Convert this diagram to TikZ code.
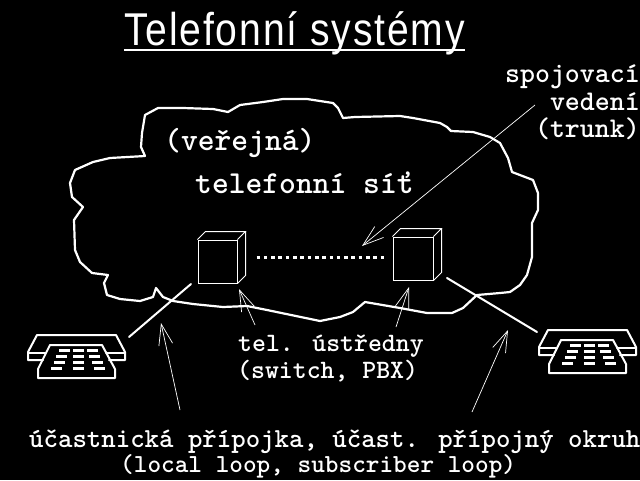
\documentclass[tikz,border=0pt]{standalone}
\usepackage{fontspec}
\usepackage{tikz}
\usetikzlibrary{arrows.meta,positioning}
\newfontfamily\headfont[FakeStretch=.85,LetterSpace=4]{Liberation Sans}
\begin{document}
\begin{tikzpicture}[x=1pt,y=-1pt, every node/.style={text=white,inner sep=0pt,font=\fontsize{27.5}{27.5}\selectfont\ttfamily\bfseries}, bignote/.style={font=\fontsize{32}{32}\selectfont\ttfamily\bfseries}, trunknote/.style={font=\fontsize{28.5}{28.5}\selectfont\ttfamily\bfseries}, smallnote/.style={font=\fontsize{26.5}{26.5}\selectfont\ttfamily\bfseries}, headnote/.style={font=\fontsize{46}{46}\selectfont\headfont}, wire/.style={draw=white,line width=2pt,line join=round,line cap=round}, pointer/.style={draw=white,line width=.7pt,-{Straight Barb[length=21pt,width=14pt,line width=.7pt]}}, switchbox/.style={draw=white,line width=1pt,minimum width=39pt,minimum height=43pt}, depth/.style={draw=white,line width=1pt}, phone/.pic={
  \draw[wire] (43,360)--(28,360)--(28,352)--(37,335)--(116,335)--(125,352)--(125,360)--(109,360);
  \draw[wire] (45,353)--(28,353);\draw[wire] (106,353)--(125,353);
  \draw[wire] (50,345)--(102,345)--(115,369)--(115,378)--(38,378)--(38,369)--cycle;
  \foreach \ky/\ka/\kc in {350.5/59/87,356.5/56/89,362.5/54/92,368.5/51/94} {
    \fill[white] (\ka,\ky-1.5) rectangle +(11,3);
    \fill[white] (73,\ky-1.5) rectangle +(11,3);
    \fill[white] (\kc,\ky-1.5) rectangle +(11,3);
  }
}]
\fill[black] (0,0) rectangle (640,480);
\useasboundingbox (0,0) rectangle (640,480);
\node[headnote,anchor=base west] (title) at (124,45) {Telefonní systémy};
\draw[wire,line cap=butt] (124,50)--(465,50);
% cloud
\draw[wire,line width=2.2pt] (145,156)--(141,147)--(142,133)--(145,115)--(158,108)--(183,108)--(213,109)--(228,112)--(240,105)--(263,102)--(283,99)--(307,99)--(333,103)--(338,108)--(343,118)--(355,117)--(400,116)--(413,118)--(440,123)--(447,127)--(451,131)--(473,132)--(490,137)--(500,143)--(508,158)--(512,172)--(533,180)--(538,193)--(538,210)--(532,223)--(532,257)--(527,275)--(520,285)--(510,292)--(500,293)--(477,295)--(463,308)--(452,313)--(427,313)--(400,308)--(365,302)--(353,312)--(340,317)--(320,321)--(267,310)--(247,306)--(223,307)--(193,304)--(173,301)--(163,297)--(156,288)--(153,297)--(140,301)--(120,299)--(107,295)--(104,283)--(108,275)--(92,273)--(80,262)--(75,250)--(74,220)--(83,207)--(72,197)--(70,183)--(75,170)--(93,162)--(110,158)--cycle;
\node[bignote,anchor=base west] (verejna) at (164,150) {(veřejná)};
\node[bignote,anchor=base west] (sit) at (195,193) {telefonní síť};
\node[trunknote,anchor=base east] (spoj) at (640,82) {spojovací};
\node[trunknote,anchor=base east] (vedeni) at (640,110) {vedení};
\node[trunknote,anchor=base east] (trunk) at (640,137) {(trunk)};
\node[smallnote,anchor=base west] (ustredny) at (238,351) {tel. ústředny};
\node[smallnote,anchor=base west] (switch) at (237,378) {(switch, PBX)};
\node[anchor=base west] (pripojka) at (29,447) {účastnická přípojka, účast. přípojný okruh};
\node[anchor=base west,font=\fontsize{26}{26}\selectfont\ttfamily\bfseries] (subloop) at (120,472) {(local loop, subscriber loop)};
% switches
\node[switchbox] (swa) at (217.5,261.5) {};
\node[switchbox,minimum width=40pt] (swb) at (413,258.5) {};
\draw[depth] (swa.north west)--([shift={(8,-8)}]swa.north west)--([shift={(8,-8)}]swa.north east)--(swa.north east);
\draw[depth] ([shift={(8,-8)}]swa.north east)--([shift={(8,-8)}]swa.south east)--(swa.south east);
\draw[depth] (swb.north west)--([shift={(8,-8)}]swb.north west)--([shift={(8,-8)}]swb.north east)--(swb.north east);
\draw[depth] ([shift={(8,-8)}]swb.north east)--([shift={(8,-8)}]swb.south east)--(swb.south east);
\draw[white,line width=3pt,dash pattern=on 3.6pt off 3.7pt,shorten <=19pt,shorten >=7pt] ([yshift=4.5pt]swa.east)--([yshift=1.5pt]swb.west);
% phones
\pic (pha) at (0,0) {phone};
\pic (phb) at (511,-5) {phone};
\coordinate (loopa) at (129,337);\coordinate (loopb) at (191,284);
\coordinate (loopc) at (537,332);\coordinate (loopd) at (447,278);
\draw[wire] (loopa)--(loopb);\draw[wire] (loopc)--(loopd);
% pointers
\coordinate (trunkfrom) at (535,105);\coordinate (trunkto) at (362,246);
\coordinate (usta) at (255,325);\coordinate (ustato) at (239,289);
\coordinate (ustb) at (396,327);\coordinate (ustbto) at (409,287);
\coordinate (pra) at (180,410);\coordinate (prato) at (161,323);
\coordinate (prb) at (472,412);\coordinate (prbto) at (508,330);
\draw[pointer] (trunkfrom)--(trunkto);\draw[pointer] (usta)--(ustato);\draw[pointer] (ustb)--(ustbto);\draw[pointer] (pra)--(prato);\draw[pointer] (prb)--(prbto);
\end{tikzpicture}
\end{document}
